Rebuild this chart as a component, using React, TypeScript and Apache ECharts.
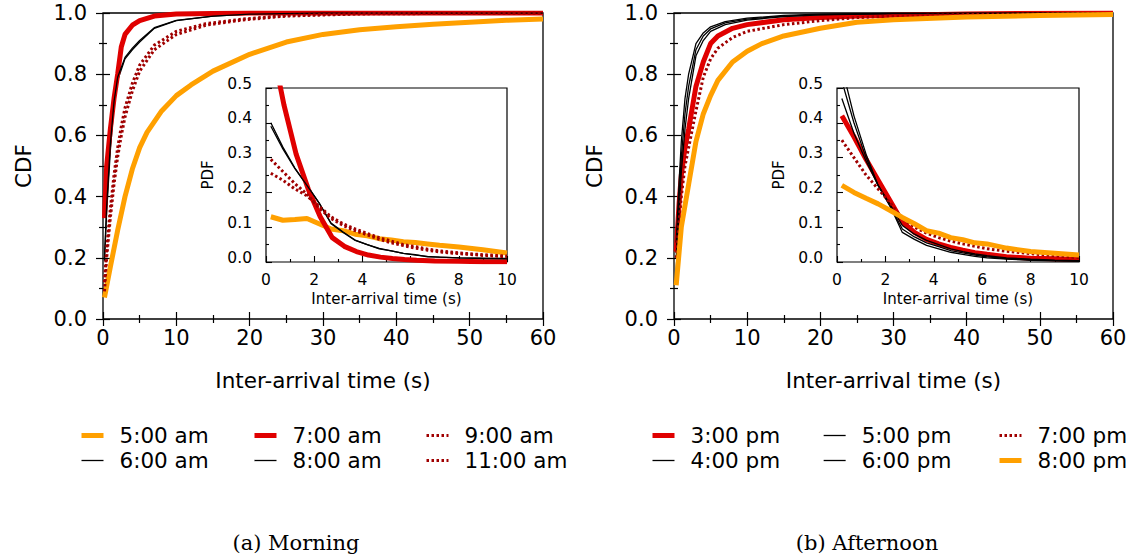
import React, { useEffect, useRef } from "react";
import * as echarts from "echarts";

// ---------- DATA ----------
// Morning CDF (x: inter-arrival time s, y: CDF)
const cdfAm5: number[][] = [[0.2,0.07],[1,0.17],[2,0.29],[3,0.4],[4,0.49],[5,0.56],[6,0.61],[8,0.68],[10,0.73],[12,0.765],[15,0.81],[20,0.865],[25,0.905],[30,0.93],[35,0.945],[40,0.955],[45,0.963],[50,0.97],[55,0.976],[60,0.98]];
const cdfAm6: number[][] = [[0.2,0.19],[0.5,0.35],[1,0.55],[1.5,0.7],[2,0.78],[3,0.85],[4,0.88],[5,0.905],[7,0.95],[10,0.975],[15,0.99],[20,0.996],[30,1],[60,1]];
const cdfAm7: number[][] = [[0.2,0.33],[0.5,0.5],[1,0.62],[1.5,0.72],[2,0.8],[2.5,0.89],[3,0.93],[4,0.96],[5,0.975],[7,0.99],[10,0.997],[20,1],[60,1]];
const cdfAm8: number[][] = [[0.2,0.2],[0.5,0.37],[1,0.57],[1.5,0.71],[2,0.79],[3,0.855],[4,0.885],[5,0.91],[7,0.952],[10,0.976],[15,0.99],[20,0.996],[30,1],[60,1]];
const cdfAm9: number[][] = [[0.2,0.09],[0.5,0.2],[1,0.33],[1.5,0.44],[2,0.53],[2.5,0.6],[3,0.66],[4,0.745],[5,0.81],[7,0.88],[10,0.93],[14,0.96],[19,0.977],[25,0.99],[35,0.997],[60,1]];
const cdfAm11: number[][] = [[0.2,0.12],[0.5,0.23],[1,0.36],[1.5,0.47],[2,0.56],[2.5,0.63],[3,0.69],[4,0.77],[5,0.83],[7,0.895],[10,0.94],[14,0.965],[19,0.98],[25,0.992],[35,0.998],[60,1]];

// Morning PDF (inset)
const pdfAm5: number[][] = [[0.2,0.13],[0.7,0.12],[1.2,0.122],[1.7,0.125],[2.2,0.11],[2.7,0.095],[3.2,0.09],[3.7,0.08],[4.2,0.075],[4.7,0.067],[5.2,0.063],[5.7,0.058],[6.2,0.056],[6.7,0.052],[7.2,0.048],[8,0.043],[9,0.035],[10,0.026]];
const pdfAm6: number[][] = [[0.2,0.4],[0.7,0.33],[1.2,0.27],[1.7,0.22],[2.2,0.17],[2.7,0.11],[3.2,0.085],[3.7,0.062],[4.2,0.05],[4.7,0.038],[5.2,0.032],[5.7,0.025],[6.2,0.021],[6.7,0.015],[7.2,0.014],[8,0.012],[9,0.011],[10,0.01]];
const pdfAm7: number[][] = [[0.25,0.62],[0.75,0.45],[1.25,0.31],[1.75,0.21],[2.25,0.13],[2.75,0.07],[3.25,0.045],[3.75,0.03],[4.25,0.02],[4.75,0.014],[5.25,0.01],[5.75,0.007],[6.25,0.005],[7,0.003],[8,0.002],[9,0.001],[10,0.001]];
const pdfAm8: number[][] = [[0.2,0.39],[0.7,0.325],[1.2,0.268],[1.7,0.22],[2.2,0.17],[2.7,0.112],[3.2,0.086],[3.7,0.063],[4.2,0.05],[4.7,0.039],[5.2,0.032],[5.7,0.025],[6.2,0.02],[6.7,0.016],[7.2,0.014],[8,0.012],[9,0.01],[10,0.009]];
const pdfAm9: number[][] = [[0.2,0.295],[0.7,0.26],[1.2,0.225],[1.7,0.195],[2.2,0.155],[2.7,0.125],[3.2,0.105],[3.7,0.09],[4.2,0.078],[4.7,0.065],[5.2,0.055],[5.7,0.047],[6.2,0.04],[6.7,0.034],[7.2,0.029],[8,0.024],[9,0.019],[10,0.015]];
const pdfAm11: number[][] = [[0.2,0.255],[0.7,0.235],[1.2,0.21],[1.7,0.19],[2.2,0.16],[2.7,0.13],[3.2,0.11],[3.7,0.095],[4.2,0.082],[4.7,0.07],[5.2,0.06],[5.7,0.05],[6.2,0.044],[6.7,0.037],[7.2,0.032],[8,0.026],[9,0.021],[10,0.017]];

// Afternoon CDF
const cdfPm3: number[][] = [[0.3,0.22],[0.7,0.38],[1,0.47],[1.5,0.56],[2,0.62],[3,0.76],[4,0.84],[5,0.9],[6,0.925],[8,0.95],[10,0.962],[15,0.978],[20,0.985],[25,0.99],[30,0.993],[40,0.997],[60,1]];
const cdfPm4: number[][] = [[0.3,0.25],[0.7,0.45],[1,0.58],[1.5,0.72],[2,0.8],[3,0.9],[4,0.935],[5,0.955],[7,0.972],[10,0.983],[15,0.992],[20,0.996],[30,0.999],[60,1]];
const cdfPm5: number[][] = [[0.3,0.2],[0.7,0.4],[1,0.53],[1.5,0.67],[2,0.76],[3,0.88],[4,0.925],[5,0.948],[7,0.968],[10,0.98],[15,0.99],[20,0.995],[30,0.999],[60,1]];
const cdfPm6: number[][] = [[0.3,0.16],[0.7,0.35],[1,0.48],[1.5,0.62],[2,0.72],[3,0.86],[4,0.91],[5,0.94],[7,0.962],[10,0.977],[15,0.988],[20,0.994],[30,0.998],[60,1]];
const cdfPm7: number[][] = [[0.3,0.2],[0.7,0.32],[1,0.4],[1.5,0.5],[2,0.56],[2.5,0.62],[3,0.68],[4,0.79],[5,0.85],[6,0.885],[8,0.92],[10,0.94],[15,0.962],[20,0.975],[25,0.985],[30,0.99],[40,0.995],[60,0.999]];
const cdfPm8: number[][] = [[0.3,0.11],[1,0.3],[2,0.44],[3,0.58],[4,0.67],[5,0.73],[6,0.78],[8,0.84],[10,0.875],[12,0.9],[15,0.925],[20,0.95],[25,0.97],[30,0.978],[40,0.987],[50,0.992],[60,0.995]];

// Afternoon PDF (inset)
const pdfPm3: number[][] = [[0.2,0.42],[0.7,0.36],[1.2,0.295],[1.7,0.235],[2.2,0.175],[2.7,0.115],[3.2,0.085],[3.7,0.065],[4.2,0.052],[4.7,0.042],[5.2,0.034],[5.7,0.027],[6.2,0.022],[7,0.015],[8,0.011],[9,0.009],[10,0.007]];
const pdfPm4: number[][] = [[0.2,0.56],[0.7,0.42],[1.2,0.31],[1.7,0.22],[2.2,0.16],[2.7,0.085],[3.2,0.065],[3.7,0.048],[4.2,0.038],[4.7,0.028],[5.2,0.022],[5.7,0.016],[6.2,0.012],[7,0.008],[8,0.005],[9,0.003],[10,0.002]];
const pdfPm5: number[][] = [[0.2,0.52],[0.7,0.4],[1.2,0.3],[1.7,0.22],[2.2,0.16],[2.7,0.095],[3.2,0.072],[3.7,0.055],[4.2,0.044],[4.7,0.033],[5.2,0.026],[5.7,0.02],[6.2,0.015],[7,0.01],[8,0.007],[9,0.004],[10,0.003]];
const pdfPm6: number[][] = [[0.2,0.47],[0.7,0.37],[1.2,0.29],[1.7,0.22],[2.2,0.165],[2.7,0.105],[3.2,0.08],[3.7,0.062],[4.2,0.05],[4.7,0.038],[5.2,0.03],[5.7,0.023],[6.2,0.018],[7,0.012],[8,0.008],[9,0.005],[10,0.004]];
const pdfPm7: number[][] = [[0.2,0.35],[0.7,0.3],[1.2,0.25],[1.7,0.21],[2.2,0.17],[2.7,0.125],[3.2,0.1],[3.7,0.083],[4.2,0.07],[4.7,0.06],[5.2,0.052],[5.7,0.045],[6.2,0.038],[7,0.031],[8,0.024],[9,0.018],[10,0.012]];
const pdfPm8: number[][] = [[0.2,0.22],[0.7,0.2],[1.2,0.183],[1.7,0.167],[2.2,0.148],[2.7,0.128],[3.2,0.11],[3.7,0.09],[4.2,0.083],[4.7,0.07],[5.2,0.064],[5.7,0.055],[6.2,0.052],[7,0.04],[8,0.03],[9,0.025],[10,0.02]];

const legendAm: string[][] = [["5:00 am", "6:00 am"], ["7:00 am", "8:00 am"], ["9:00 am", "11:00 am"]];
const legendPm: string[][] = [["3:00 pm", "4:00 pm"], ["5:00 pm", "6:00 pm"], ["7:00 pm", "8:00 pm"]];
const captions: string[] = ["(a) Morning", "(b) Afternoon"];
const xTitle = "Inter-arrival time (s)";

// ---------- STYLES ----------
const FONT = '"DejaVu Sans", "Liberation Sans", Arial, sans-serif';
const SERIF = '"DejaVu Serif", "Liberation Serif", serif';
const ORANGE = "#ffa000";
const RED = "#e00000";
const DARKRED = "#a00000";
const thickOrange = { color: ORANGE, width: 5, type: "solid" as const };
const thickRed = { color: RED, width: 5, type: "solid" as const };
const thinBlack = { color: "#000", width: 1.3, type: "solid" as const };
const dotted = { color: DARKRED, width: 3, type: [2.5, 2.5] as any, cap: "butt" as const };

function line(name: string, data: number[][], axis: number, style: any, z: number) {
  return {
    type: "line",
    name,
    data,
    xAxisIndex: axis,
    yAxisIndex: axis,
    symbol: "none",
    showSymbol: false,
    clip: true,
    silent: true,
    z,
    lineStyle: style,
    itemStyle: { color: style.color },
  };
}

const tickStyle = { color: "#000", width: 1.2 };

function mainX(grid: number, top: boolean) {
  return {
    type: "value",
    gridIndex: grid,
    position: top ? "top" : "bottom",
    min: 0,
    max: 60,
    interval: 10,
    name: top ? "" : xTitle,
    nameLocation: "middle",
    nameGap: 50,
    nameTextStyle: { fontSize: 21.5, fontFamily: FONT, color: "#000" },
    axisLine: { show: false },
    axisTick: { show: true, inside: true, length: 7, lineStyle: tickStyle },
    minorTick: { show: true, splitNumber: 2, length: 4, lineStyle: tickStyle },
    splitLine: { show: false },
    minorSplitLine: { show: false },
    axisLabel: { show: !top, margin: 8, fontSize: 21, fontFamily: FONT, color: "#000" },
  };
}

function mainY(grid: number, right: boolean) {
  return {
    type: "value",
    gridIndex: grid,
    position: right ? "right" : "left",
    min: 0,
    max: 1,
    interval: 0.2,
    name: right ? "" : "CDF",
    nameLocation: "middle",
    nameGap: 69,
    nameTextStyle: { fontSize: 21.5, fontFamily: FONT, color: "#000" },
    axisLine: { show: false },
    axisTick: { show: true, inside: true, length: 7, lineStyle: tickStyle },
    minorTick: { show: true, splitNumber: 2, length: 4, lineStyle: tickStyle },
    splitLine: { show: false },
    minorSplitLine: { show: false },
    axisLabel: {
      show: !right,
      margin: 16,
      fontSize: 21,
      fontFamily: FONT,
      color: "#000",
      formatter: (v: number) => v.toFixed(1),
    },
  };
}

function insetX(grid: number) {
  return {
    type: "value",
    gridIndex: grid,
    min: 0,
    max: 10,
    interval: 2,
    name: xTitle,
    nameLocation: "middle",
    nameGap: 29,
    nameTextStyle: { fontSize: 15, fontFamily: FONT, color: "#000" },
    axisLine: { show: false },
    axisTick: { show: true, inside: true, length: 6, lineStyle: { color: "#000", width: 1.1 } },
    minorTick: { show: true, splitNumber: 2, length: 3, lineStyle: { color: "#000", width: 1.1 } },
    splitLine: { show: false },
    minorSplitLine: { show: false },
    axisLabel: { margin: 10, fontSize: 15.5, fontFamily: FONT, color: "#000" },
  };
}

function insetY(grid: number) {
  return {
    type: "value",
    gridIndex: grid,
    min: 0,
    max: 0.5,
    interval: 0.1,
    name: "PDF",
    nameLocation: "middle",
    nameGap: 51,
    nameTextStyle: { fontSize: 15, fontFamily: FONT, color: "#000" },
    axisLine: { show: false },
    axisTick: { show: true, inside: true, length: 6, lineStyle: { color: "#000", width: 1.1 } },
    minorTick: { show: true, splitNumber: 2, length: 3, lineStyle: { color: "#000", width: 1.1 } },
    splitLine: { show: false },
    minorSplitLine: { show: false },
    axisLabel: {
      margin: 14,
      fontSize: 15.5,
      fontFamily: FONT,
      color: "#000",
      verticalAlign: "bottom",
      lineHeight: 9,
      formatter: (v: number) => v.toFixed(1),
    },
  };
}

function legendCol(names: string[], left: number) {
  return {
    data: names,
    left,
    top: 423,
    orient: "vertical",
    itemWidth: 22,
    itemHeight: 14,
    itemGap: 0,
    padding: 0,
    selectedMode: false,
    lineStyle: { width: "inherit" },
    itemStyle: { opacity: 0 },
    textStyle: { fontSize: 21.5, lineHeight: 25, fontFamily: FONT, color: "#000", padding: [0, 0, 0, 11] },
  };
}

export default function App() {
  const ref = useRef<HTMLDivElement>(null);
  useEffect(() => {
    if (!ref.current) return;
    const chart = echarts.init(ref.current, null, { renderer: "svg" });
    const option: any = {
      animation: false,
      backgroundColor: "#fff",
      grid: [
        { left: 103, top: 13, width: 440, height: 306, show: true, borderColor: "#000", borderWidth: 1.3, backgroundColor: "transparent" },
        { left: 266, top: 88, width: 241, height: 174, show: true, borderColor: "#000", borderWidth: 1.2, backgroundColor: "#fff" },
        { left: 674, top: 13, width: 439, height: 306, show: true, borderColor: "#000", borderWidth: 1.3, backgroundColor: "transparent" },
        { left: 837, top: 88, width: 242, height: 174, show: true, borderColor: "#000", borderWidth: 1.2, backgroundColor: "#fff" },
      ],
      xAxis: [mainX(0, false), mainX(0, true), insetX(1), mainX(2, false), mainX(2, true), insetX(3)],
      yAxis: [mainY(0, false), mainY(0, true), insetY(1), mainY(2, false), mainY(2, true), insetY(3)],
      legend: [
        legendCol(legendAm[0], 79),
        legendCol(legendAm[1], 252),
        legendCol(legendAm[2], 425),
        legendCol(legendPm[0], 650),
        legendCol(legendPm[1], 823),
        legendCol(legendPm[2], 997),
      ],
      graphic: [
        { type: "text", x: 296, y: 543, style: { text: captions[0], fontSize: 21, fontFamily: SERIF, fill: "#000", align: "center", verticalAlign: "middle" } },
        { type: "text", x: 867, y: 543, style: { text: captions[1], fontSize: 21, fontFamily: SERIF, fill: "#000", align: "center", verticalAlign: "middle" } },
      ],
      series: [
        line("5:00 am", cdfAm5, 0, thickOrange, 2),
        line("6:00 am", cdfAm6, 0, thinBlack, 3),
        line("7:00 am", cdfAm7, 0, thickRed, 4),
        line("8:00 am", cdfAm8, 0, thinBlack, 5),
        line("9:00 am", cdfAm9, 0, dotted, 6),
        line("11:00 am", cdfAm11, 0, dotted, 7),
        line("5:00 am", pdfAm5, 2, thickOrange, 2),
        line("6:00 am", pdfAm6, 2, thinBlack, 3),
        line("7:00 am", pdfAm7, 2, thickRed, 4),
        line("8:00 am", pdfAm8, 2, thinBlack, 5),
        line("9:00 am", pdfAm9, 2, dotted, 6),
        line("11:00 am", pdfAm11, 2, dotted, 7),
        line("3:00 pm", cdfPm3, 3, thickRed, 2),
        line("4:00 pm", cdfPm4, 3, thinBlack, 3),
        line("5:00 pm", cdfPm5, 3, thinBlack, 4),
        line("6:00 pm", cdfPm6, 3, thinBlack, 5),
        line("7:00 pm", cdfPm7, 3, dotted, 6),
        line("8:00 pm", cdfPm8, 3, thickOrange, 7),
        line("3:00 pm", pdfPm3, 5, thickRed, 2),
        line("4:00 pm", pdfPm4, 5, thinBlack, 3),
        line("5:00 pm", pdfPm5, 5, thinBlack, 4),
        line("6:00 pm", pdfPm6, 5, thinBlack, 5),
        line("7:00 pm", pdfPm7, 5, dotted, 6),
        line("8:00 pm", pdfPm8, 5, thickOrange, 7),
      ],
    };
    chart.setOption(option);
    return () => chart.dispose();
  }, []);
  return <div ref={ref} style={{ position: "absolute", left: 0, top: 0, width: 1138, height: 560 }} />;
}
